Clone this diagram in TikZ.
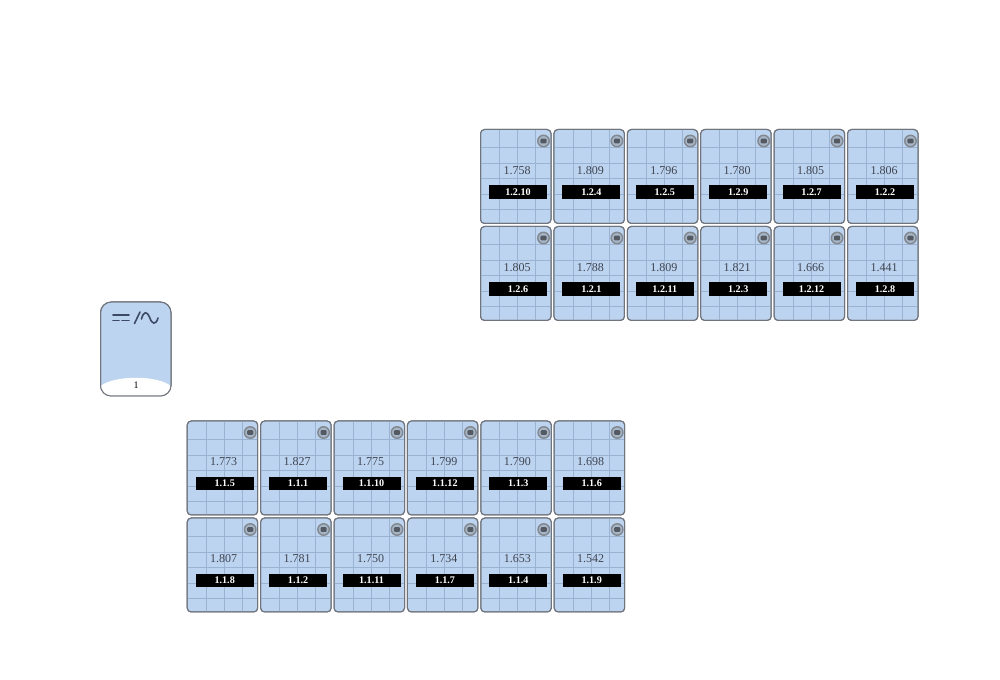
\documentclass[tikz,border=0pt]{standalone}
\usepackage{fontspec}
\setmainfont{Liberation Serif}
\definecolor{cardfill}{HTML}{BDD4F0}
\definecolor{cardedge}{HTML}{70747C}
\definecolor{gridline}{HTML}{9BB3D2}
\definecolor{valtext}{HTML}{3E4450}
\definecolor{iconring}{HTML}{83888F}
\definecolor{icondark}{HTML}{555A62}
\definecolor{glyph}{HTML}{3C4A66}
\tikzset{
  x=0.75pt,y=-0.75pt,
  cardbox/.style={draw=cardedge,fill=cardfill,line width=0.75pt,rounded corners=3pt,minimum width=52.9pt,minimum height=70.5pt,inner sep=0pt,outer sep=0pt},
  gridrule/.style={draw=gridline,line width=0.5pt},
  valuetext/.style={text=valtext,font=\fontsize{9}{10}\selectfont,inner sep=0pt},
  tagbox/.style={fill=black,text=white,font=\fontsize{7.6}{9}\selectfont\bfseries,minimum width=43.5pt,minimum height=10pt,inner sep=0pt},
  iconouter/.style={circle,draw=iconring,fill=cardfill!60!iconring,line width=1.1pt,minimum size=8.6pt,inner sep=0pt},
  iconinner/.style={rectangle,rounded corners=0.8pt,fill=icondark,minimum width=4.6pt,minimum height=3.6pt,inner sep=0pt},
  mainbox/.style={draw=cardedge,fill=cardfill,line width=0.75pt,rounded corners=8pt,minimum width=52.9pt,minimum height=70.5pt,inner sep=0pt,outer sep=0pt},
  mainglyph/.style={draw=glyph,line width=1.2pt,line cap=round},
  mainlabel/.style={text=black,font=\fontsize{7.5}{9}\selectfont,inner sep=0pt},
}
\newcommand{\gridcard}[5]{% x y value tag name
  \begin{scope}[shift={(#1,#2)}]
    \node[cardbox,anchor=north west] (#5) at (0,0) {};
    \begin{scope}
      \clip[rounded corners=3pt] (0,0) rectangle (70.5,94);
      \foreach \gx in {19,37,55} \draw[gridrule] (\gx,0) -- (\gx,94);
      \foreach \gy in {18,34,49,65,80} \draw[gridrule] (0,\gy) -- (70.5,\gy);
    \end{scope}
    \draw[draw=cardedge,line width=0.75pt,rounded corners=3pt] (0,0) rectangle (70.5,94);
    \node[iconouter] (#5i) at (63,11.5) {};
    \node[iconinner] at (#5i) {};
    \node[valuetext] (#5v) at (36.5,41) {#3};
    \node[tagbox] (#5t) at (37.5,62.5) {#4};
  \end{scope}
}
\begin{document}
\begin{tikzpicture}
\useasboundingbox (0,0) rectangle (1000,680);
\fill[white] (0,0) rectangle (1000,680);
% upper block
\foreach \v/\t [count=\i from 0] in {1.758/1.2.10,1.809/1.2.4,1.796/1.2.5,1.780/1.2.9,1.805/1.2.7,1.806/1.2.2}
  {\gridcard{480.5+73.4*\i}{129.5}{\v}{\t}{a\i}}
\foreach \v/\t [count=\i from 0] in {1.805/1.2.6,1.788/1.2.1,1.809/1.2.11,1.821/1.2.3,1.666/1.2.12,1.441/1.2.8}
  {\gridcard{480.5+73.4*\i}{226.5}{\v}{\t}{b\i}}
% lower block
\foreach \v/\t [count=\i from 0] in {1.773/1.1.5,1.827/1.1.1,1.775/1.1.10,1.799/1.1.12,1.790/1.1.3,1.698/1.1.6}
  {\gridcard{187.2+73.4*\i}{421}{\v}{\t}{c\i}}
\foreach \v/\t [count=\i from 0] in {1.807/1.1.8,1.781/1.1.2,1.750/1.1.11,1.734/1.1.7,1.653/1.1.4,1.542/1.1.9}
  {\gridcard{187.2+73.4*\i}{518}{\v}{\t}{d\i}}
% inverter
\node[mainbox,anchor=north west] (inv) at (100.5,302) {};
\begin{scope}
  \clip[rounded corners=8pt] (100.5,302) rectangle (171,396);
  \fill[white] (100.5,386) .. controls (115,375) and (157,375) .. (171,386) -- (171,396) -- (100.5,396) -- cycle;
\end{scope}
\draw[draw=cardedge,line width=0.75pt,rounded corners=8pt] (100.5,302) rectangle (171,396);
\node[mainlabel] (invl) at (136,385.5) {1};
\draw[mainglyph] (113,315) -- (129,315);
\draw[mainglyph] (113,320.5) -- (119,320.5) (122,320.5) -- (129,320.5);
\draw[mainglyph] (134.5,323.5) -- (140,312);
\draw[mainglyph] (141.5,319) .. controls (143.5,311) and (147,311) .. (149.5,317) .. controls (152,325) and (156,325) .. (158,318);
\end{tikzpicture}
\end{document}
